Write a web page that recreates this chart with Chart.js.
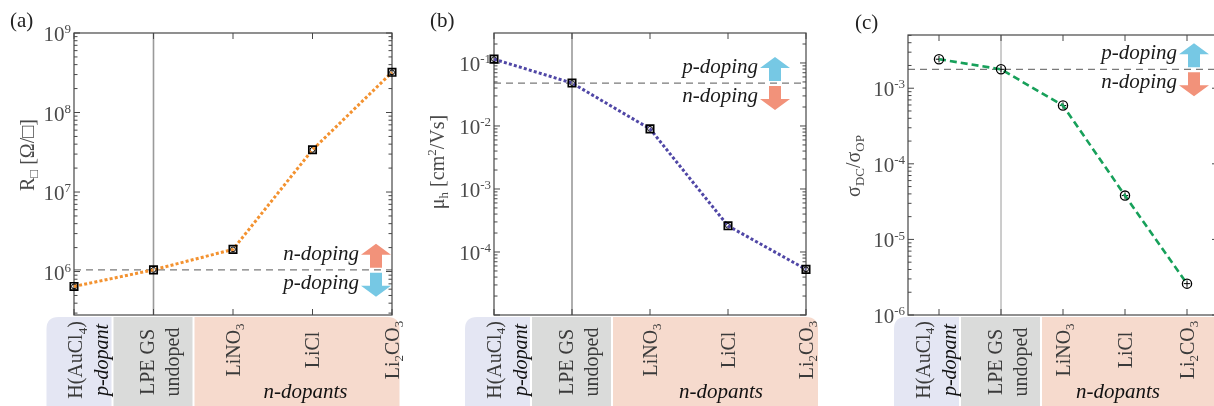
<!DOCTYPE html>
<html>
<head>
<meta charset="utf-8">
<script src="https://cdn.jsdelivr.net/npm/chart.js@4.4.1/dist/chart.umd.min.js"></script>
<style>
    html, body { margin: 0; padding: 0; background: #fff; width: 1214px; height: 406px; overflow: hidden; }
    .panel { position: absolute; top: 0; }
</style>
</head>
<body>
<div class="panel" style="left:0px"><canvas id="chartA" width="410" height="406"></canvas></div>
<div class="panel" style="left:410px"><canvas id="chartB" width="410" height="406"></canvas></div>
<div class="panel" style="left:820px"><canvas id="chartC" width="420" height="406"></canvas></div>
<script>
// --- Data ---
const categories = ['H(AuCl_4)', 'LPE GS', 'LiNO_3', 'LiCl', 'Li_2CO_3'];
const categoryNotes = ['p-dopant', 'undoped', '', '', ''];
const groupLabel = 'n-dopants';

const sheetResistance = [6.5e5, 1.05e6, 1.9e6, 3.4e7, 3.2e8];      // (a) R [Ohm/sq]
const holeMobility = [0.115, 0.048, 0.0090, 2.6e-4, 5.3e-5];        // (b) mu_h [cm2/Vs]
const conductivityRatio = [2.42e-3, 1.78e-3, 5.9e-4, 3.8e-5, 2.6e-6]; // (c) sigma_DC/sigma_OP

const undopedR = 1.05e6;
const undopedMobility = 0.048;
const undopedRatio = 1.78e-3;

const tickExpA = [6, 7, 8, 9];
const tickExpB = [-4, -3, -2, -1];
const tickExpC = [-6, -5, -4, -3];

const FONT = '"Liberation Serif", "Times New Roman", "DejaVu Serif", serif';
const ORANGE_ARROW = '#f2927a';
const BLUE_ARROW = '#76c8e4';

// --- Rich text helpers (_ = subscript, ^ = superscript) ---
function parseRich(str) {
    const out = [];
    const re = /([_^])(\{[^}]*\}|.)/g;
    let last = 0, m;
    while ((m = re.exec(str))) {
        if (m.index > last) out.push({ t: str.slice(last, m.index), k: 0 });
        let t = m[2];
        if (t[0] === '{') t = t.slice(1, -1);
        out.push({ t, k: m[1] === '_' ? 1 : -1 });
        last = re.lastIndex;
    }
    if (last < str.length) out.push({ t: str.slice(last), k: 0 });
    return out;
}

function drawRich(ctx, str, x, y, size, opt = {}) {
    const segs = parseRich(str);
    const small = Math.round(size * 0.64);
    const fontFor = k => `${opt.italic ? 'italic ' : ''}${k ? small : size}px ${FONT}`;
    let w = 0;
    segs.forEach(s => { ctx.font = fontFor(s.k); s.w = ctx.measureText(s.t).width; w += s.w; });
    let cx = opt.align === 'right' ? x - w : opt.align === 'center' ? x - w / 2 : x;
    ctx.fillStyle = opt.color || '#333';
    ctx.textAlign = 'left';
    ctx.textBaseline = 'alphabetic';
    segs.forEach(s => {
        ctx.font = fontFor(s.k);
        const dy = s.k === 1 ? size * 0.22 : s.k === -1 ? -size * 0.37 : 0;
        ctx.fillText(s.t, cx, y + dy);
        cx += s.w;
    });
}

function drawRotated(ctx, str, cx, cy, size, opt = {}) {
    ctx.save();
    ctx.translate(cx, cy);
    ctx.rotate(-Math.PI / 2);
    drawRich(ctx, str, 0, size * 0.33, size, Object.assign({ align: 'center' }, opt));
    ctx.restore();
}

function drawArrow(ctx, cx, top, bottom, dir, color) {
    const headH = 11, headW = 15, shaftW = 6;
    ctx.fillStyle = color;
    ctx.beginPath();
    if (dir === 'up') {
        ctx.moveTo(cx, top);
        ctx.lineTo(cx + headW, top + headH);
        ctx.lineTo(cx + shaftW, top + headH);
        ctx.lineTo(cx + shaftW, bottom);
        ctx.lineTo(cx - shaftW, bottom);
        ctx.lineTo(cx - shaftW, top + headH);
        ctx.lineTo(cx - headW, top + headH);
    } else {
        ctx.moveTo(cx, bottom);
        ctx.lineTo(cx + headW, bottom - headH);
        ctx.lineTo(cx + shaftW, bottom - headH);
        ctx.lineTo(cx + shaftW, top);
        ctx.lineTo(cx - shaftW, top);
        ctx.lineTo(cx - shaftW, bottom - headH);
        ctx.lineTo(cx - headW, bottom - headH);
    }
    ctx.closePath();
    ctx.fill();
}

function roundBox(ctx, x0, y0, x1, y1, rl, rr, color) {
    ctx.fillStyle = color;
    ctx.beginPath();
    ctx.moveTo(x0, y1);
    ctx.lineTo(x0, y0 + rl);
    ctx.quadraticCurveTo(x0, y0, x0 + rl, y0);
    ctx.lineTo(x1 - rr, y0);
    ctx.quadraticCurveTo(x1, y0, x1, y0 + rr);
    ctx.lineTo(x1, y1);
    ctx.closePath();
    ctx.fill();
}

// --- Decoration plugin: frame, ticks, labels, arrows ---
const decorPlugin = {
    id: 'panelDecor',
    beforeDatasetsDraw(chart, args, o) {
        const { ctx, chartArea: a, scales: { x, y } } = chart;
        ctx.save();
        // vertical line at undoped sample
        const xl = x.getPixelForValue(1);
        ctx.strokeStyle = '#9a9a9a';
        ctx.lineWidth = o.vLineWidth;
        ctx.beginPath(); ctx.moveTo(xl, a.top); ctx.lineTo(xl, a.bottom); ctx.stroke();
        // dashed reference line
        const yr = y.getPixelForValue(o.reference);
        ctx.strokeStyle = '#7a7a7a';
        ctx.lineWidth = 1.2;
        ctx.setLineDash([7, 5]);
        ctx.beginPath(); ctx.moveTo(a.left, yr); ctx.lineTo(a.right, yr); ctx.stroke();
        ctx.setLineDash([]);
        // frame
        ctx.strokeStyle = '#474747';
        ctx.lineWidth = 1.2;
        ctx.strokeRect(a.left, a.top, a.right - a.left, a.bottom - a.top);
        // log ticks (inward, both sides)
        const lo = Math.floor(Math.log10(y.min)), hi = Math.ceil(Math.log10(y.max));
        ctx.lineWidth = 1;
        ctx.beginPath();
        for (let e = lo; e <= hi; e++) {
            for (let m = 1; m <= 9; m++) {
                const v = m * Math.pow(10, e);
                if (v < y.min * 0.999 || v > y.max * 1.001) continue;
                const py = y.getPixelForValue(v);
                const len = m === 1 ? 6 : 3.5;
                ctx.moveTo(a.left, py); ctx.lineTo(a.left + len, py);
                ctx.moveTo(a.right, py); ctx.lineTo(a.right - len, py);
            }
        }
        categories.forEach((c, i) => {
            const px = x.getPixelForValue(i);
            ctx.moveTo(px, a.bottom); ctx.lineTo(px, a.bottom - 6);
            ctx.moveTo(px, a.top); ctx.lineTo(px, a.top + 6);
        });
        ctx.stroke();
        ctx.restore();
    },
    afterDraw(chart, args, o) {
        const { ctx, chartArea: a, scales: { x, y } } = chart;
        ctx.save();
        const lpe = x.getPixelForValue(1);
        const boxTop = a.bottom + 2;
        // category boxes
        roundBox(ctx, lpe - 107, boxTop, lpe - 42, chart.height + 2, 12, 0, '#e4e6f3');
        roundBox(ctx, lpe - 40, boxTop, lpe + 39, chart.height + 2, 0, 0, '#dadbda');
        roundBox(ctx, lpe + 41, boxTop, lpe + 246, chart.height + 2, 0, 12, '#f6dacd');
        // category labels
        drawRotated(ctx, categories[0], lpe - 78, 360, 20, { color: '#3a3a3a' });
        drawRotated(ctx, categoryNotes[0], lpe - 52, 360, 20, { color: '#111', italic: true });
        drawRotated(ctx, categories[1], lpe - 6, 362, 20, { color: '#3a3a3a' });
        drawRotated(ctx, categoryNotes[1], lpe + 19, 362, 20, { color: '#3a3a3a' });
        for (let i = 2; i < categories.length; i++) {
            drawRotated(ctx, categories[i], x.getPixelForValue(i), 350, 20, { color: '#3a3a3a' });
        }
        drawRich(ctx, groupLabel, x.getPixelForValue(3) - 7, 398, 21, { align: 'center', italic: true, color: '#111' });
        // y tick labels
        o.tickExp.forEach(e => {
            const py = y.getPixelForValue(Math.pow(10, e));
            drawRich(ctx, '10^{' + e + '}', a.left - 3, py + 8, 21, { align: 'right', color: '#4a4a4a' });
        });
        // axis title
        drawRotated(ctx, o.title, o.titleX, o.titleY, 20, { color: '#4a4a4a' });
        // doping arrows and text
        const yr = y.getPixelForValue(o.reference);
        const ax = a.right - o.arrowInset;
        drawArrow(ctx, ax, yr - 26, yr - 2, 'up', o.upperColor);
        drawArrow(ctx, ax, yr + 3, yr + 27, 'down', o.lowerColor);
        drawRich(ctx, o.upperText, ax - 17, yr - 10, 21, { align: 'right', italic: true, color: '#1a1a1a' });
        drawRich(ctx, o.lowerText, ax - 17, yr + 19, 21, { align: 'right', italic: true, color: '#1a1a1a' });
        // panel letter
        drawRich(ctx, o.letter, o.letterX, o.letterY, 21, { color: '#222' });
        ctx.restore();
    }
};

function makePanel(id, values, cfg) {
    const pts = values.map((v, i) => ({ x: i, y: v }));
    const markers = cfg.marker === 'square'
        ? [{ style: 'rect', r: 5.2, w: 1.7 }, { style: 'circle', r: 2.4, w: 1 }]
        : [{ style: 'circle', r: 4.6, w: 1.3 }, { style: 'cross', r: 3.2, w: 1 }];
    return new Chart(document.getElementById(id), {
        type: 'line',
        data: {
            datasets: [
                {
                    data: pts,
                    borderColor: cfg.color,
                    borderWidth: cfg.lineWidth,
                    borderDash: cfg.dash,
                    pointStyle: markers[0].style,
                    pointRadius: markers[0].r,
                    pointBorderWidth: markers[0].w,
                    pointBorderColor: '#000',
                    pointBackgroundColor: 'rgba(0,0,0,0)',
                    tension: 0,
                    clip: false
                },
                {
                    data: pts,
                    showLine: false,
                    pointStyle: markers[1].style,
                    pointRadius: markers[1].r,
                    pointBorderWidth: markers[1].w,
                    pointBorderColor: '#000',
                    pointBackgroundColor: 'rgba(0,0,0,0)',
                    clip: false
                }
            ]
        },
        options: {
            responsive: false,
            animation: false,
            events: [],
            layout: { padding: cfg.padding },
            scales: {
                x: { type: 'linear', display: false, min: cfg.xMin, max: cfg.xMax },
                y: { type: 'logarithmic', display: false, min: cfg.yMin, max: cfg.yMax }
            },
            plugins: {
                legend: { display: false },
                tooltip: { enabled: false },
                panelDecor: cfg.decor
            }
        },
        plugins: [decorPlugin]
    });
}

makePanel('chartA', sheetResistance, {
    color: '#f39230', lineWidth: 3, dash: [3, 2.2], marker: 'square',
    padding: { left: 74, right: 18, top: 33, bottom: 91 },
    xMin: 0, xMax: 4, yMin: 2.84e5, yMax: 1e9,
    decor: {
        reference: undopedR, tickExp: tickExpA, vLineWidth: 1.6,
        title: 'R_□ [Ω/□]', titleX: 27, titleY: 155,
        upperText: 'n-doping', upperColor: ORANGE_ARROW,
        lowerText: 'p-doping', lowerColor: BLUE_ARROW,
        arrowInset: 16, letter: '(a)', letterX: 10, letterY: 27
    }
});

makePanel('chartB', holeMobility, {
    color: '#5047a6', lineWidth: 3, dash: [3, 2.2], marker: 'square',
    padding: { left: 84, right: 14, top: 33, bottom: 91 },
    xMin: 0, xMax: 4, yMin: 1e-5, yMax: 0.299,
    decor: {
        reference: undopedMobility, tickExp: tickExpB, vLineWidth: 1.6,
        title: 'μ_h [cm^2/Vs]', titleX: 27, titleY: 162,
        upperText: 'p-doping', upperColor: BLUE_ARROW,
        lowerText: 'n-doping', lowerColor: ORANGE_ARROW,
        arrowInset: 31, letter: '(b)', letterX: 20, letterY: 27
    }
});

makePanel('chartC', conductivityRatio, {
    color: '#17a05a', lineWidth: 2.6, dash: [7, 4], marker: 'circle',
    padding: { left: 88, right: 22, top: 35, bottom: 91 },
    xMin: -0.5, xMax: 4.5, yMin: 1e-6, yMax: 5.06e-3,
    decor: {
        reference: undopedRatio, tickExp: tickExpC, vLineWidth: 1,
        title: 'σ_{DC}/σ_{OP}', titleX: 33, titleY: 166,
        upperText: 'p-doping', upperColor: BLUE_ARROW,
        lowerText: 'n-doping', lowerColor: ORANGE_ARROW,
        arrowInset: 24, letter: '(c)', letterX: 35, letterY: 29
    }
});
</script>
</body>
</html>
